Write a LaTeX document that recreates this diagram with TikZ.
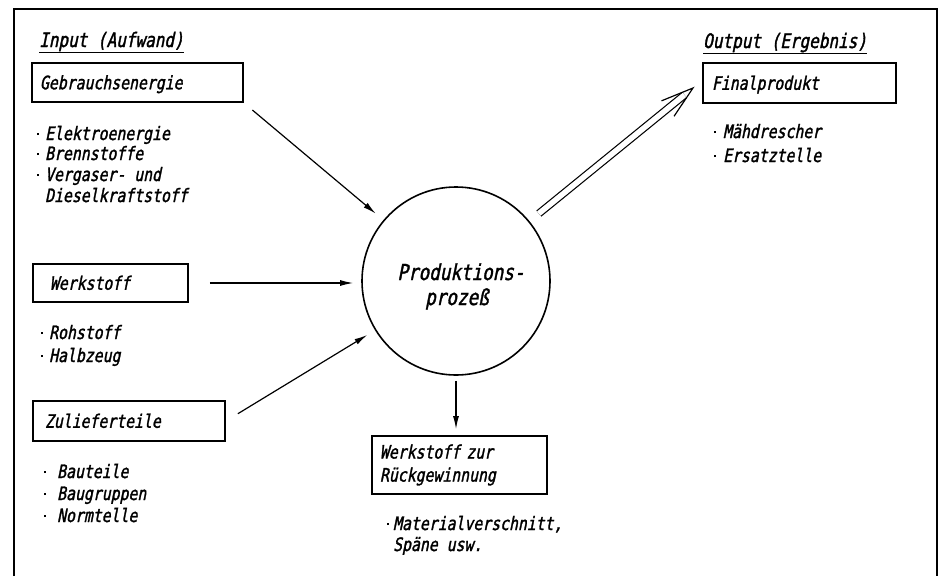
\documentclass[tikz,border=0pt]{standalone}
\usepackage{fontspec}
\setmainfont{Liberation Sans}
\newfontfamily\lett{DejaVu Sans Mono}[FakeStretch=0.8,FakeSlant=0.2,FakeBold=1.5]
\usetikzlibrary{arrows.meta,calc}
\newcommand\bl[1]{\makebox[#1][l]{\hspace{1pt}\raisebox{5pt}{\rule{2.4pt}{2.4pt}}}}
\begin{document}
\begin{tikzpicture}[x=1pt,y=-1pt,
  txt/.style={inner sep=0pt, anchor=base west, font=\lett\fontsize{18.5}{21}\selectfont},
  head/.style={inner sep=0pt, anchor=base west, font=\lett\fontsize{20}{21}\selectfont},
  boxst/.style={draw, line width=1.8pt, inner ysep=0pt, align=left,
    text height=13.5pt, text depth=0pt, font=\lett\fontsize{18.5}{21}\selectfont},
  boxtwo/.style={draw, line width=1.8pt, inner ysep=0pt, align=left,
    font=\lett\fontsize{18.5}{23}\selectfont},
  ctext/.style={inner sep=0pt, anchor=base, font=\lett\fontsize{22}{25}\selectfont},
  arr/.style={line width=1.2pt, -{Latex[length=13pt,width=6pt]}},
  frame/.style={line width=1.5pt}]
\useasboundingbox (0,0) rectangle (942,576);
\fill[white] (0,0) rectangle (942,576);
% frame
\draw[frame] (14,576) -- (14,9) -- (937,9) -- (937,576);

% headings
\node[head] (inp) at (39,47) {Input (Aufwand)};
\draw[line width=1pt] ([yshift=-5pt]inp.base west) -- ([yshift=-5pt]inp.base east);
\node[head] (outp) at (703,48) {Output (Ergebnis)};
\draw[line width=1pt] ([yshift=-5pt]outp.base west) -- ([yshift=-5pt]outp.base east);

% boxes
\node[boxst, minimum width=211pt, minimum height=39pt, inner xsep=8pt, text width=195pt] (geb) at (137.5,82.5) {Gebrauchsenergie};
\node[boxst, minimum width=155pt, minimum height=38pt, inner xsep=17pt, text width=121pt] (werk) at (110.5,283) {Werkstoff};
\node[boxst, minimum width=192pt, minimum height=40pt, inner xsep=12pt, text width=168pt] (zul) at (129,421) {Zulieferteile};
\node[boxst, minimum width=193pt, minimum height=40pt, inner xsep=9pt, text width=175pt] (fin) at (799.5,83) {Finalprodukt};
\node[boxtwo, minimum width=175pt, minimum height=58pt, inner xsep=8pt, text width=159pt] (rueck) at (459.5,465) {Werkstoff zur\\Rückgewinnung};

% process circle
\node[draw, circle, line width=1.6pt, minimum size=188pt, inner sep=0pt] (prod) at (456,281) {};
\node[ctext] (pt1) at (461,280) {Produktions-};
\node[ctext] (pt2) at (457,305) {prozeß};

% lists
\node[txt] (g1) at (35.8,140) {\bl{9.2pt}Elektroenergie};
\node[txt] (g2) at (35.8,160) {\bl{9.2pt}Brennstoffe};
\node[txt] (g3) at (35.8,181) {\bl{9.2pt}Vergaser- und};
\node[txt] (g4) at (45,202) {Dieselkraftstoff};

\node[txt] (w1) at (39.8,339) {\bl{9.2pt}Rohstoff};
\node[txt] (w2) at (39.8,362) {\bl{9.2pt}Halbzeug};

\node[txt] (z1) at (42.8,478) {\bl{14.2pt}Bauteile};
\node[txt] (z2) at (42.8,500) {\bl{14.2pt}Baugruppen};
\node[txt] (z3) at (42.8,522) {\bl{14.2pt}Normtelle};

\node[txt] (f1) at (712.8,138) {\bl{10.2pt}Mähdrescher};
\node[txt] (f2) at (712.8,162) {\bl{10.2pt}Ersatztelle};

\node[txt] (r1) at (385.8,530) {\bl{7.2pt}Materialverschnitt,};
\node[txt] (r2) at (393,551) {Späne usw.};

% connectors
\draw[arr, shorten <=11pt, shorten >=10pt] (geb.south east) -- (prod);
\draw[arr, shorten <=21pt, shorten >=8pt] (werk.east) -- (werk.east -| prod.west);
\draw[arr, shorten <=14pt, shorten >=9pt] (zul.east) -- (prod);
\draw[arr, shorten <=5pt, shorten >=6pt] (prod.south) -- (prod.south |- rueck.north);

% double output arrow
\coordinate (dtip) at (693,88);
\draw[line width=1.2pt, double, double distance=5.5pt, shorten <=12pt, shorten >=11pt] (prod) -- (dtip);
\draw[line width=1.2pt, line join=miter] ($(dtip)!34pt!17:(prod.center)$) -- (dtip) -- ($(dtip)!34pt!-17:(prod.center)$);
\end{tikzpicture}
\end{document}
